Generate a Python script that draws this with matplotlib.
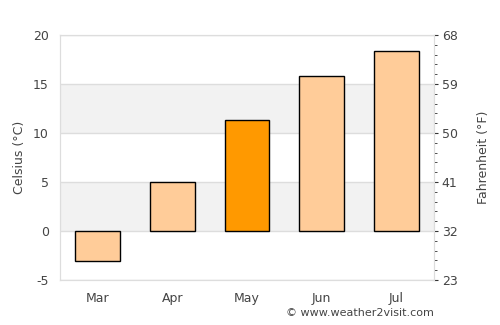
import matplotlib
matplotlib.use("Agg")
import matplotlib.pyplot as plt
from matplotlib.ticker import AutoMinorLocator, FixedLocator

months = ["Mar", "Apr", "May", "Jun", "Jul"]
celsius = [-3.1, 5.0, 11.3, 15.8, 18.4]
highlight = "May"
c_ticks = [-5, 0, 5, 10, 15, 20]
f_ticks = [23, 32, 41, 50, 59, 68]

light = "#FFCC99"
dark = "#FF9900"
text_col = "#444444"

fig = plt.figure(figsize=(5, 3.25), dpi=100)
ax = fig.add_axes([0.12, 0.1385, 0.748, 0.7535])

# background bands
for lo in c_ticks[:-1]:
    if lo in (0, 10):
        ax.axhspan(lo, lo + 5, color="#F2F2F2", zorder=0, lw=0)
for t in c_ticks:
    ax.axhline(t, color="#DDDDDD", lw=1, zorder=1)

x = list(range(len(months)))
colors = [dark if m == highlight else light for m in months]
ax.bar(x, celsius, width=0.6, color=colors, edgecolor="black", linewidth=1, zorder=3)

ax.set_xlim(-0.5, len(months) - 0.5)
ax.set_ylim(-5, 20)
ax.set_yticks(c_ticks)
ax.set_yticklabels([str(t) for t in c_ticks])
ax.set_xticks(x)
ax.set_xticklabels(months)
ax.tick_params(axis="both", length=0, labelsize=9, colors=text_col, pad=8)
ax.tick_params(axis="x", pad=9)
ax.set_ylabel("Celsius (°C)", color=text_col, fontsize=9, labelpad=5)
for s in ax.spines.values():
    s.set_color("#DDDDDD")

ax2 = ax.twinx()
ax2.set_ylim(23, 68)
ax2.yaxis.set_major_locator(FixedLocator(f_ticks))
ax2.yaxis.set_minor_locator(AutoMinorLocator(5))
ax2.set_yticklabels([str(t) for t in f_ticks])
ax2.tick_params(axis="y", which="major", length=3, color="#333333", labelsize=9, labelcolor=text_col, pad=2.5)
ax2.tick_params(axis="y", which="minor", length=2.5, color="#333333")
ax2.set_ylabel("Fahrenheit (°F)", color=text_col, fontsize=9, labelpad=14)
for s in ax2.spines.values():
    s.set_color("#DDDDDD")

fig.text(0.868, 0.02, "© www.weather2visit.com", ha="right", va="bottom", fontsize=8, color=text_col)

fig.savefig("out.png", dpi=100)
